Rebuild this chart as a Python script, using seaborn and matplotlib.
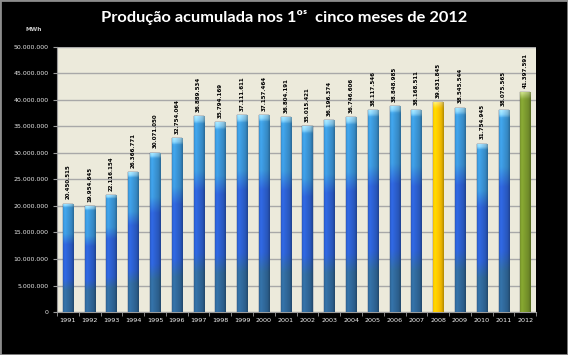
import matplotlib
matplotlib.use("Agg")
import matplotlib.pyplot as plt
import seaborn as sns
import numpy as np
import pandas as pd
from matplotlib.colors import to_rgb
from matplotlib.patches import Rectangle

years = ["1991", "1992", "1993", "1994", "1995", "1996", "1997", "1998", "1999", "2000", "2001",
         "2002", "2003", "2004", "2005", "2006", "2007", "2008", "2009", "2010", "2011", "2012"]
values = [20450515, 19954645, 22116154, 26366771, 30071050, 32754064, 36889534, 35794169,
          37111611, 37157464, 36804191, 35015421, 36196374, 36746606, 38117546, 38848985,
          38168511, 39631845, 38545544, 31754945, 38075565, 41397591]
bar_kind = ["blue"] * 17 + ["gold"] + ["blue"] * 3 + ["green"]
yticks = list(range(0, 50000001, 5000000))

def fmt(v):
    return f"{v:,}".replace(",", ".")

df = pd.DataFrame({"ano": years, "mwh": values, "kind": bar_kind})
base = {"blue": "#2C5FCF", "gold": "#FFC400", "green": "#7D9B30"}

fig = plt.figure(figsize=(5.68, 3.55), dpi=100, facecolor="black")
ax = fig.add_axes([0.1004, 0.121, 0.8436, 0.747])
ax.set_facecolor("#ECEADB")
sns.barplot(data=df, x="ano", y="mwh", hue="ano", legend=False,
            palette=[base[k] for k in bar_kind], width=0.46, saturation=1,
            ax=ax, zorder=3)

ax.set_xlim(-0.5, len(years) - 0.5)
ax.set_ylim(0, 50000000)

def vgrad(stops, n=120):
    t = np.linspace(0, 1, n)
    pos = [s[0] for s in stops]
    cols = np.array([to_rgb(s[1]) for s in stops])
    return np.stack([np.interp(t, pos, cols[:, c]) for c in range(3)], axis=1)

blue_stops = [(0, "#30689A"), (0.20, "#30689A"), (0.30, "#2C5FCF"), (0.62, "#2C5FCF"),
              (0.72, "#3A92D5"), (0.965, "#3C98D8"), (0.98, "#7FC8F0"), (1.0, "#9AD6F5")]
gold_stops = [(0, "#FFC400"), (0.97, "#FFC800"), (1.0, "#FFE070")]
green_stops = [(0, "#7A982C"), (0.97, "#7D9B30"), (1.0, "#B8CC78")]
stops_map = {"blue": blue_stops, "gold": gold_stops, "green": green_stops}

W = 24
xx = np.linspace(0, 1, W)
hshade = np.interp(xx, [0, 0.15, 0.5, 0.8, 1.0], [0.95, 1.12, 1.0, 0.9, 0.7])

for patch, kind in zip(ax.patches, bar_kind):
    x0, y0 = patch.get_x(), patch.get_y()
    w, h = patch.get_width(), patch.get_height()
    col = vgrad(stops_map[kind])
    img = np.clip(col[:, None, :] * hshade[None, :, None], 0, 1)
    im = ax.imshow(img, extent=[x0, x0 + w, y0, y0 + h], origin="lower",
                   aspect="auto", zorder=3.5, interpolation="bilinear")
    im.set_clip_path(patch)
    patch.set_edgecolor("#1E3C6E" if kind == "blue" else "#555555")
    patch.set_linewidth(0.3)

ax.set_xlim(-0.5, len(years) - 0.5)
ax.set_ylim(0, 50000000)

for i, v in enumerate(values):
    ax.text(i, v + 800000, fmt(v), rotation=90, ha="center", va="bottom",
            fontsize=4, fontweight="bold", color="black", zorder=5)

ax.yaxis.grid(True, color="#A8A8A8", lw=1)
ax.xaxis.grid(False)
ax.set_axisbelow(True)
ax.set_yticks(yticks)
ax.set_yticklabels([fmt(t) for t in yticks])
ax.set_xlabel("")
ax.set_ylabel("")
ax.set_xticks(np.arange(-0.5, len(years), 1), minor=True)
ax.tick_params(axis="y", length=3, color="#9A9A9A", labelsize=4.5, labelcolor="#E6E6E6", pad=3)
ax.tick_params(axis="x", which="major", length=0, labelsize=4.6, labelcolor="#F2F2F2", pad=4)
ax.tick_params(axis="x", which="minor", length=3, color="#9A9A9A")
for s in ["top", "right"]:
    ax.spines[s].set_visible(False)
for s in ["left", "bottom"]:
    ax.spines[s].set_color("#9A9A9A")
    ax.spines[s].set_linewidth(0.8)

fig.text(0.5, 0.95, "Produção acumulada nos 1ºˢ  cinco meses de 2012", ha="center", va="center",
         fontsize=11.8, fontweight="bold", color="white", family=["Lato", "DejaVu Sans"])
fig.text(0.0598, 0.918, "MWh", ha="center", va="center", fontsize=4.2,
         fontweight="bold", color="#C8C8C8")

fig.patches.append(Rectangle((0, 0), 1, 1, transform=fig.transFigure, fill=False,
                             edgecolor="#8C8C8C", lw=2))

fig.savefig("out.png", dpi=100, facecolor="black")
